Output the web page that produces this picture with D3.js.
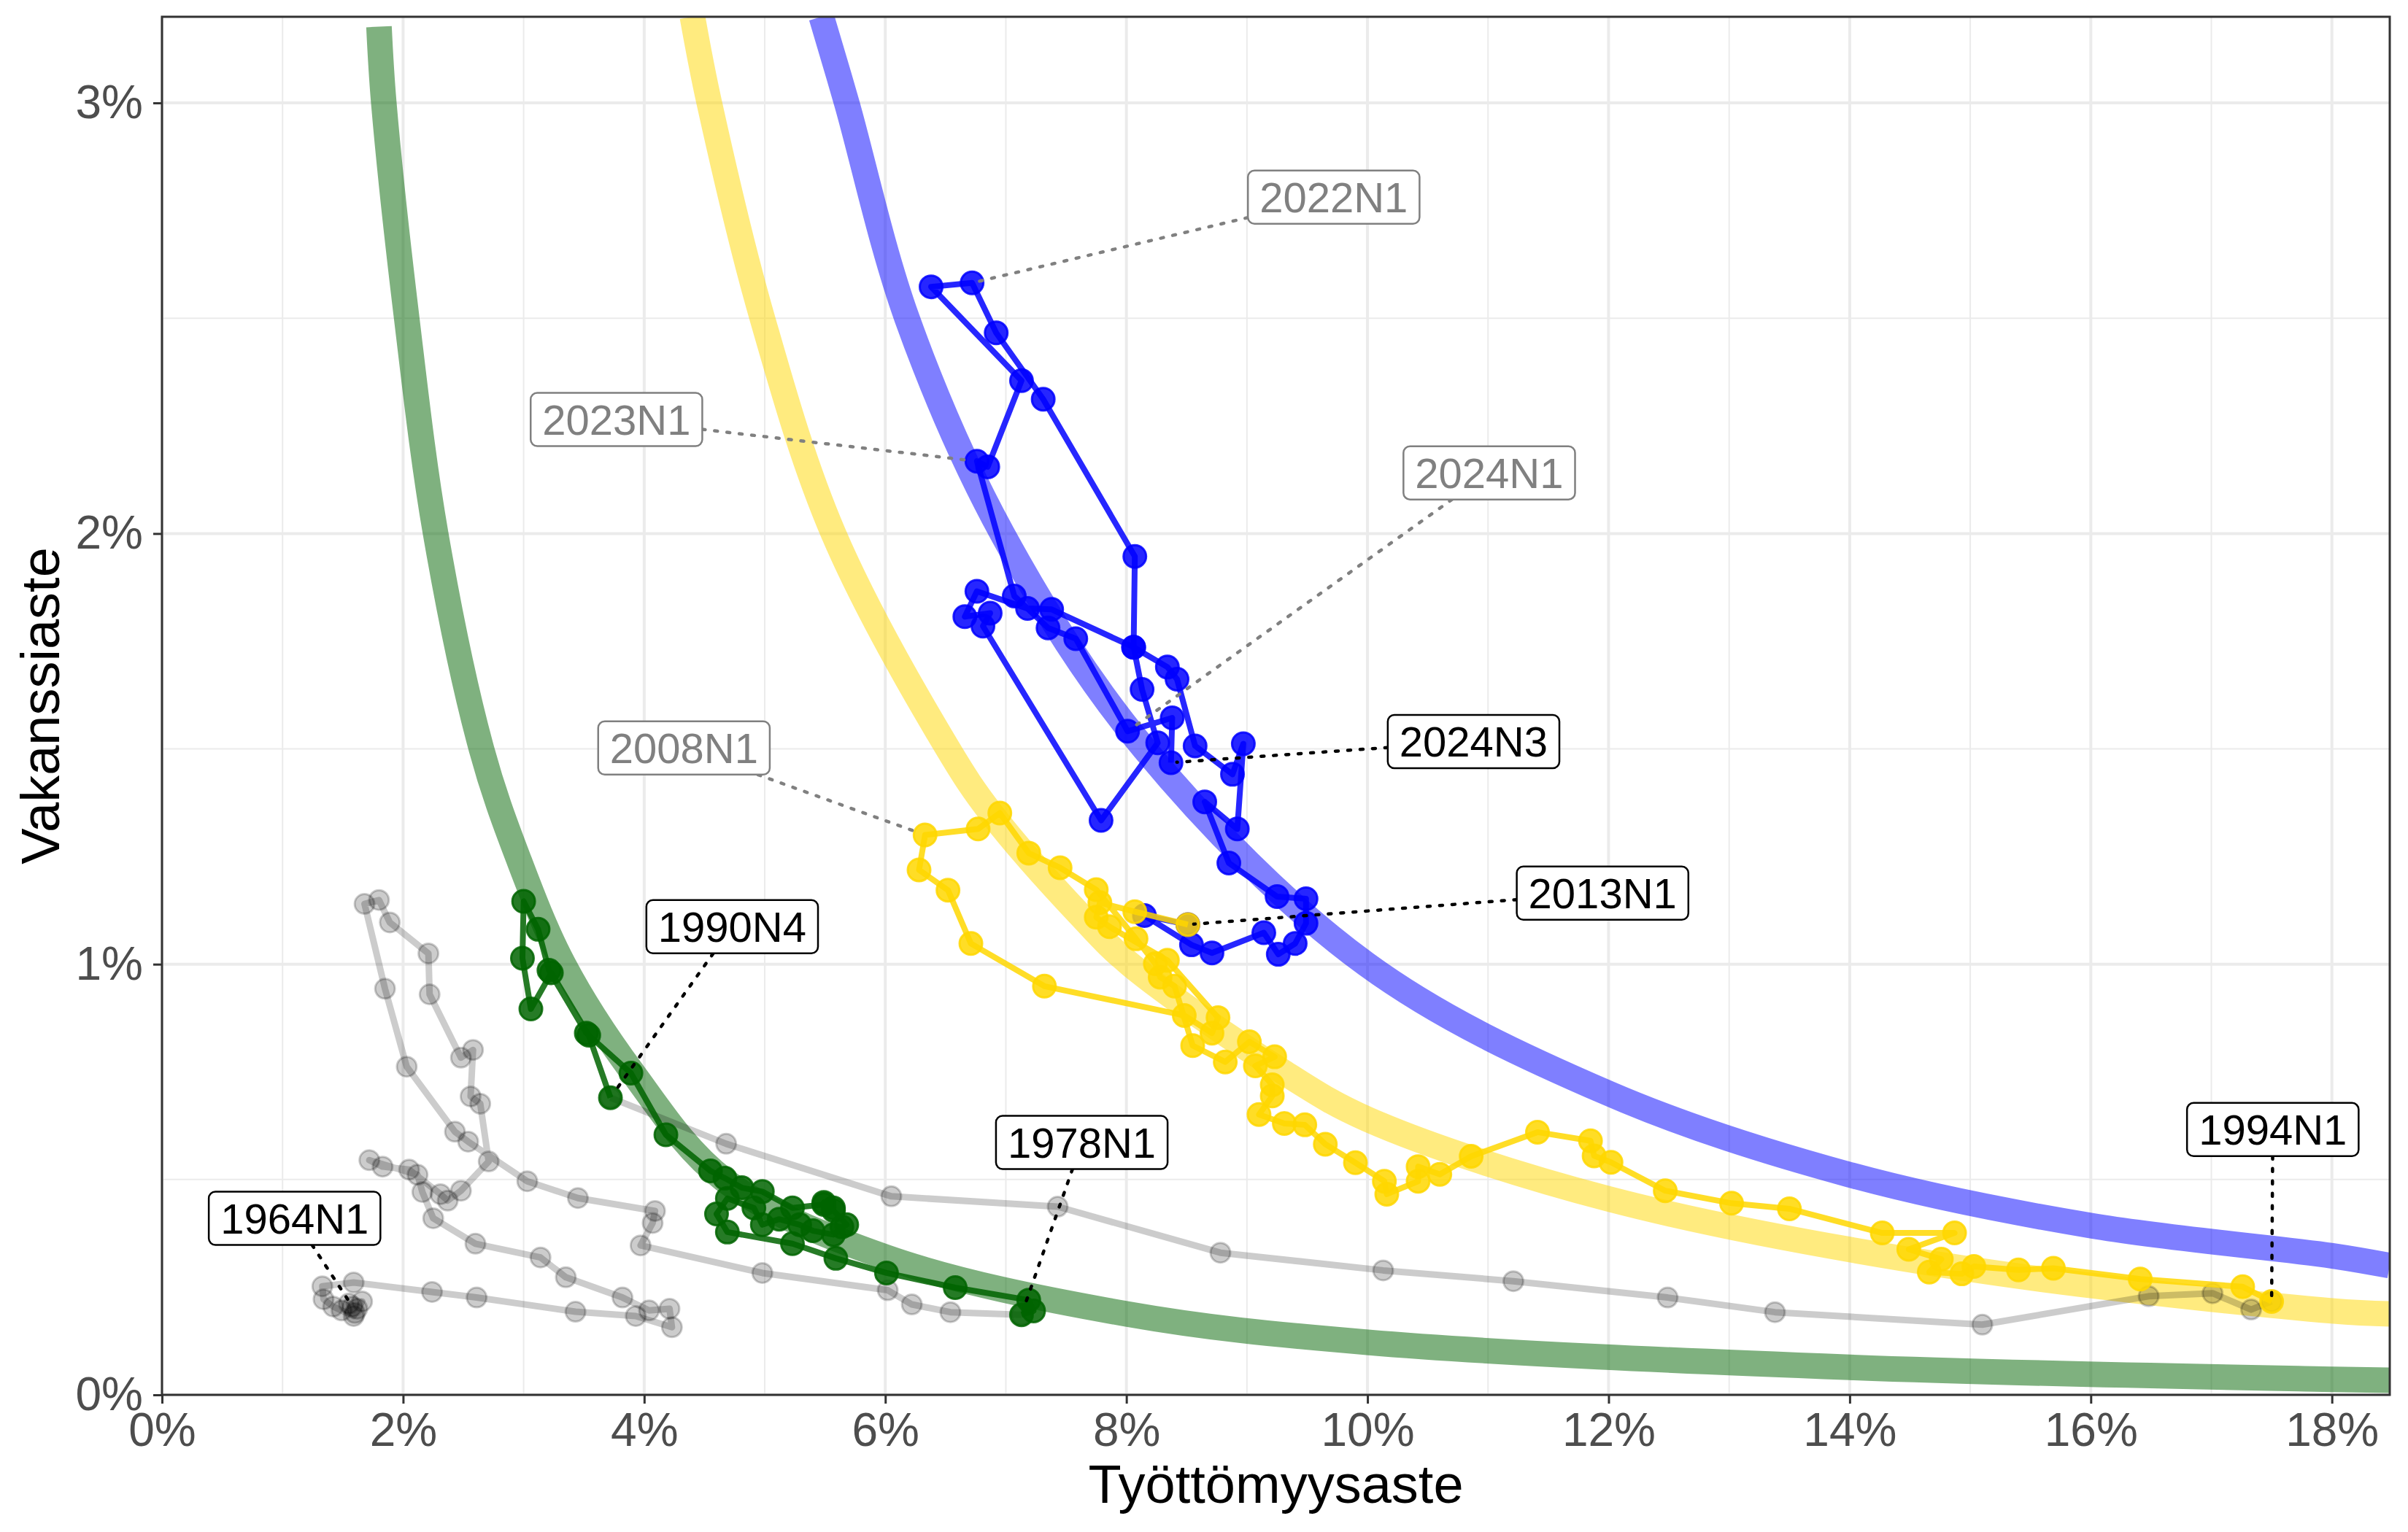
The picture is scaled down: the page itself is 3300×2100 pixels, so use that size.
<!DOCTYPE html>
<html>
<head>
<meta charset="utf-8">
<script src="https://cdn.jsdelivr.net/npm/d3@7"></script>
<style>
  body { margin: 0; background: #fff; }
  text { font-family: "Liberation Sans", Arial, sans-serif; }
</style>
</head>
<body>
<div id="chart"></div>
<script>
// Beveridge curve data: [unemployment %, vacancy %]

// 1964N1 - 1978N1 (grey)
const greyEarly = [
  [1.58,0.205],[1.62,0.200],[1.55,0.212],[1.60,0.190],[1.66,0.217],[1.59,0.183],[1.49,0.196],[1.42,0.205],
  [1.34,0.222],[1.33,0.252],[1.59,0.261],[2.24,0.239],[2.61,0.226],[3.43,0.193],[3.93,0.183],[4.23,0.157],
  [4.21,0.200],[4.04,0.196],[3.82,0.226],[3.35,0.273],[3.14,0.319],[2.60,0.351],[2.25,0.410],[2.16,0.471],
  [2.12,0.511],[1.72,0.545],[1.83,0.530],[2.05,0.523],[2.31,0.466],[2.37,0.451],[2.48,0.474],[2.71,0.542],
  [2.64,0.676],[2.56,0.693],[2.58,0.801],[2.48,0.783],[2.22,0.930],[2.21,1.025],[1.89,1.097],[1.80,1.149],
  [1.68,1.140],[1.85,0.943],[2.03,0.762],[2.43,0.611],[2.54,0.588],[3.03,0.496],[3.45,0.457],[4.09,0.427],
  [4.07,0.399],[3.97,0.347],[4.98,0.283],[6.02,0.243],[6.22,0.210],[6.54,0.192],[7.13,0.186]
];

// 1978N1 - 1990N4 (green)
const green = [
  [7.13,0.186],[7.23,0.195],[7.19,0.220],[6.58,0.249],[6.01,0.283],[5.59,0.317],[5.23,0.351],[4.69,0.378],
  [4.60,0.420],[4.69,0.456],[4.91,0.434],[4.98,0.395],[5.12,0.408],[5.29,0.395],[5.40,0.381],[5.57,0.372],
  [5.64,0.390],[5.68,0.395],[5.57,0.428],[5.49,0.447],[5.57,0.434],[5.49,0.442],[5.23,0.434],[4.98,0.472],
  [4.81,0.481],[4.67,0.503],[4.55,0.520],[4.18,0.604],[3.89,0.747],[3.52,0.840],[3.21,0.986],[3.12,1.081],
  [3.00,1.146],[2.99,1.014],[3.06,0.896],[3.23,0.980],[3.54,0.835],[3.72,0.690]
];

// 1990N4 - 1994N1 (grey)
const greyMid = [
  [3.72,0.690],[4.68,0.583],[6.05,0.461],[7.43,0.437],[8.78,0.330],[10.13,0.289],[11.21,0.264],
  [12.49,0.226],[13.38,0.192],[15.10,0.163],[16.48,0.229],[17.01,0.236],[17.33,0.198],[17.50,0.217]
];

// 1994N1 - 2013N1 (yellow)
const yellow = [
  [17.50,0.217],[17.26,0.251],[16.41,0.269],[15.69,0.294],[15.40,0.290],[15.03,0.298],[14.93,0.281],[14.66,0.285],
  [14.76,0.315],[14.49,0.338],[14.87,0.376],[14.27,0.376],[13.50,0.432],[13.02,0.445],[12.47,0.474],[12.02,0.540],
  [11.88,0.555],[11.85,0.590],[11.41,0.610],[10.86,0.554],[10.60,0.512],[10.42,0.530],[10.42,0.496],[10.16,0.466],
  [10.14,0.496],[9.90,0.539],[9.65,0.582],[9.48,0.627],[9.31,0.630],[9.10,0.651],[9.21,0.694],[9.21,0.720],
  [9.07,0.764],[9.23,0.785],[9.02,0.820],[8.82,0.773],[8.55,0.811],[8.40,0.949],[8.28,0.970],[8.24,1.001],
  [8.08,1.059],[7.75,1.173],[7.45,1.224],[7.19,1.258],[6.95,1.351],[6.77,1.314],[6.33,1.300],
  [6.28,1.219],[6.52,1.172],[6.71,1.048],[7.32,0.949],[8.48,0.881],[8.71,0.840],[8.76,0.876],[8.34,1.009],
  [7.86,1.087],[7.75,1.109],[7.78,1.143],[8.07,1.122],[8.51,1.092]
];

// 2013N1 - 2024N3 (blue)
const blue = [
  [8.51,1.092],[8.15,1.113],[8.54,1.045],[8.71,1.026],[9.14,1.073],[9.26,1.023],[9.40,1.048],[9.49,1.095],
  [9.49,1.152],[9.25,1.157],[8.85,1.235],[8.65,1.377],[8.92,1.314],[8.97,1.512],[8.88,1.441],[8.57,1.507],
  [8.42,1.662],[8.34,1.690],[8.06,1.736],[7.38,1.824],[7.18,1.826],[6.76,1.866],[6.66,1.807],[6.87,1.815],
  [6.81,1.785],[7.79,1.334],[8.26,1.514],[8.13,1.638],[8.06,1.736],[8.07,1.947],[7.31,2.312],[6.92,2.466],
  [6.72,2.582],[6.38,2.573],[7.13,2.355],[6.85,2.155],[6.76,2.168],[7.07,1.855],[7.35,1.781],[7.58,1.756],
  [8.01,1.541],[8.38,1.572],[8.37,1.468]
];

// reference curves
const curveGreen  = [[1.80,3.177],[1.84,3.00],[2.03,2.50],[2.27,2.00],[2.65,1.50],[2.95,1.25],[3.33,1.00],[3.90,0.75],[4.66,0.50],[6.0,0.32],[8.0,0.188],[10.0,0.122],[14.0,0.064],[18.0,0.036],[18.48,0.034]];
const curveYellow = [[4.40,3.20],[4.54,3.00],[4.98,2.50],[5.57,2.00],[6.52,1.50],[6.88,1.35],[7.63,1.11],[8.03,1.00],[9.30,0.75],[10.0,0.64],[12.0,0.455],[14.9,0.296],[18.0,0.195],[18.48,0.188]];
const curveBlue   = [[5.47,3.20],[5.68,3.00],[6.18,2.50],[6.97,2.00],[8.15,1.50],[9.99,1.00],[12.0,0.70],[14.0,0.511],[16.0,0.393],[18.0,0.323],[18.48,0.30]];

// annotated quarters
const labelText  = ["2022N1","2023N1","2024N1","2008N1","2024N3","2013N1","1990N4","1964N1","1978N1","1994N1"];
const labelPoint = [[6.72,2.582],[6.76,2.168],[8.01,1.541],[6.33,1.300],[8.37,1.468],[8.51,1.092],[3.72,0.690],[1.58,0.205],[7.13,0.186],[17.50,0.217]];
const labelGrey  = [true,true,true,true,false,false,false,false,false,false];

const xTicks = [0,2,4,6,8,10,12,14,16,18];
const yTicks = [0,1,2,3];

// layout
const width = 3300, height = 2100;
const margin = { top: 23, right: 25, bottom: 188, left: 222 };

const svg = d3.select("#chart").append("svg")
  .attr("width", width).attr("height", height)
  .style("background", "#fff");

const x = d3.scaleLinear().domain([0, 18.48]).range([margin.left, width - margin.right]);
const y = d3.scaleLinear().domain([0, 3.2]).range([height - margin.bottom, margin.top]);

// grid
const grid = svg.append("g");
grid.selectAll(".xminor").data(d3.range(1, 19, 2)).join("line")
  .attr("x1", d => x(d)).attr("x2", d => x(d)).attr("y1", y(0)).attr("y2", y(3.2))
  .attr("stroke", "#EBEBEB").attr("stroke-width", 2);
grid.selectAll(".yminor").data([0.5, 1.5, 2.5]).join("line")
  .attr("x1", x(0)).attr("x2", x(18.48)).attr("y1", d => y(d)).attr("y2", d => y(d))
  .attr("stroke", "#EBEBEB").attr("stroke-width", 2);
grid.selectAll(".xmajor").data(xTicks).join("line")
  .attr("x1", d => x(d)).attr("x2", d => x(d)).attr("y1", y(0)).attr("y2", y(3.2))
  .attr("stroke", "#EBEBEB").attr("stroke-width", 4);
grid.selectAll(".ymajor").data(yTicks).join("line")
  .attr("x1", x(0)).attr("x2", x(18.48)).attr("y1", d => y(d)).attr("y2", d => y(d))
  .attr("stroke", "#EBEBEB").attr("stroke-width", 4);

// clip to panel
svg.append("defs").append("clipPath").attr("id", "panel")
  .append("rect")
  .attr("x", x(0)).attr("y", y(3.2))
  .attr("width", x(18.48) - x(0)).attr("height", y(0) - y(3.2));

const plot = svg.append("g").attr("clip-path", "url(#panel)");

const line = d3.line().x(d => x(d[0])).y(d => y(d[1]));
const smooth = d3.line().x(d => x(d[0])).y(d => y(d[1])).curve(d3.curveCatmullRom.alpha(0.5));

// thick reference curves
[[curveGreen, "#006400"], [curveYellow, "#FFD700"], [curveBlue, "#0000FF"]].forEach(([pts, col]) => {
  plot.append("path")
    .datum(pts.slice().sort((a, b) => a[0] - b[0]))
    .attr("d", smooth)
    .attr("fill", "none")
    .attr("stroke", col)
    .attr("stroke-opacity", 0.5)
    .attr("stroke-width", 35);
});

// trajectories
function drawSeries(pts, col, alpha, r, lw) {
  plot.append("path")
    .datum(pts)
    .attr("d", line)
    .attr("fill", "none")
    .attr("stroke", col)
    .attr("stroke-opacity", alpha)
    .attr("stroke-width", lw)
    .attr("stroke-linejoin", "round");
  plot.append("g").selectAll("circle").data(pts).join("circle")
    .attr("cx", d => x(d[0])).attr("cy", d => y(d[1])).attr("r", r)
    .attr("fill", col).attr("fill-opacity", alpha)
    .attr("stroke", col).attr("stroke-opacity", alpha)
    .attr("stroke-width", 3);
}

drawSeries(greyEarly, "#000000", 0.2, 13.5, 9);
drawSeries(greyMid, "#000000", 0.2, 13.5, 9);
drawSeries(blue, "#0000FF", 0.85, 15.5, 8);
drawSeries(green, "#006400", 0.85, 15.5, 8);
drawSeries(yellow, "#FFD700", 0.85, 15.5, 8);

// axes
const xAxis = svg.append("g")
  .attr("transform", `translate(0,${y(0)})`)
  .call(d3.axisBottom(x).tickValues(xTicks).tickFormat(d => d + "%").tickSize(12).tickPadding(13));
const yAxis = svg.append("g")
  .attr("transform", `translate(${x(0)},0)`)
  .call(d3.axisLeft(y).tickValues(yTicks).tickFormat(d => d + "%").tickSize(12).tickPadding(14));

[xAxis, yAxis].forEach(a => {
  a.select(".domain").remove();
  a.selectAll(".tick line").attr("stroke", "#333333").attr("stroke-width", 3);
  a.selectAll(".tick text")
    .attr("fill", "#4D4D4D")
    .style("font-size", "64px")
    .style("font-family", "'Liberation Sans', Arial, sans-serif");
});

// panel border
svg.append("rect")
  .attr("x", x(0)).attr("y", y(3.2))
  .attr("width", x(18.48) - x(0)).attr("height", y(0) - y(3.2))
  .attr("fill", "none").attr("stroke", "#333333").attr("stroke-width", 3);

// axis titles
svg.append("text")
  .attr("x", (x(0) + x(18.48)) / 2).attr("y", 2060)
  .attr("text-anchor", "middle")
  .style("font-size", "74px")
  .style("fill", "#000")
  .text("Työttömyysaste");

svg.append("text")
  .attr("transform", `translate(81,${(y(0) + y(3.2)) / 2}) rotate(-90)`)
  .attr("text-anchor", "middle")
  .style("font-size", "74px")
  .style("fill", "#000")
  .text("Vakanssiaste");

// label boxes, placed in data units
const labelAt = {
  "2022N1": [9.72, 2.781], "2023N1": [3.77, 2.265], "2024N1": [11.01, 2.141], "2008N1": [4.33, 1.502],
  "2024N3": [10.88, 1.517], "2013N1": [11.95, 1.165], "1990N4": [4.73, 1.087], "1964N1": [1.10, 0.410],
  "1978N1": [7.63, 0.586], "1994N1": [17.51, 0.616]
};

const labelLayer = svg.append("g");
labelText.forEach((txt, i) => {
  const col = labelGrey[i] ? "#808080" : "#000000";
  const cx = x(labelAt[txt][0]), cy = y(labelAt[txt][1]);
  const px = x(labelPoint[i][0]), py = y(labelPoint[i][1]);
  const g = labelLayer.append("g");

  const seg = g.append("line");
  const box = g.append("rect");
  const t = g.append("text")
    .attr("x", cx).attr("y", cy)
    .attr("dy", "0.36em")
    .attr("text-anchor", "middle")
    .style("font-size", "58px")
    .style("fill", col)
    .text(txt);

  const w = t.node().getComputedTextLength() + 32;
  const h = 73;
  box.attr("x", cx - w / 2).attr("y", cy - h / 2)
    .attr("width", w).attr("height", h)
    .attr("rx", 9).attr("ry", 9)
    .attr("fill", "#fff").attr("stroke", col).attr("stroke-width", 2.5);

  // segment from box edge to the point
  const dx = px - cx, dy = py - cy;
  const s = Math.min((w / 2) / Math.abs(dx || 1e-9), (h / 2) / Math.abs(dy || 1e-9));
  const len = Math.hypot(dx, dy);
  const ex = px - dx / len * 8, ey = py - dy / len * 8;
  seg.attr("x1", cx + dx * s).attr("y1", cy + dy * s)
    .attr("x2", ex).attr("y2", ey)
    .attr("stroke", col).attr("stroke-width", 4.5)
    .attr("stroke-dasharray", "4,13").attr("stroke-linecap", "round");
});
</script>
</body>
</html>
